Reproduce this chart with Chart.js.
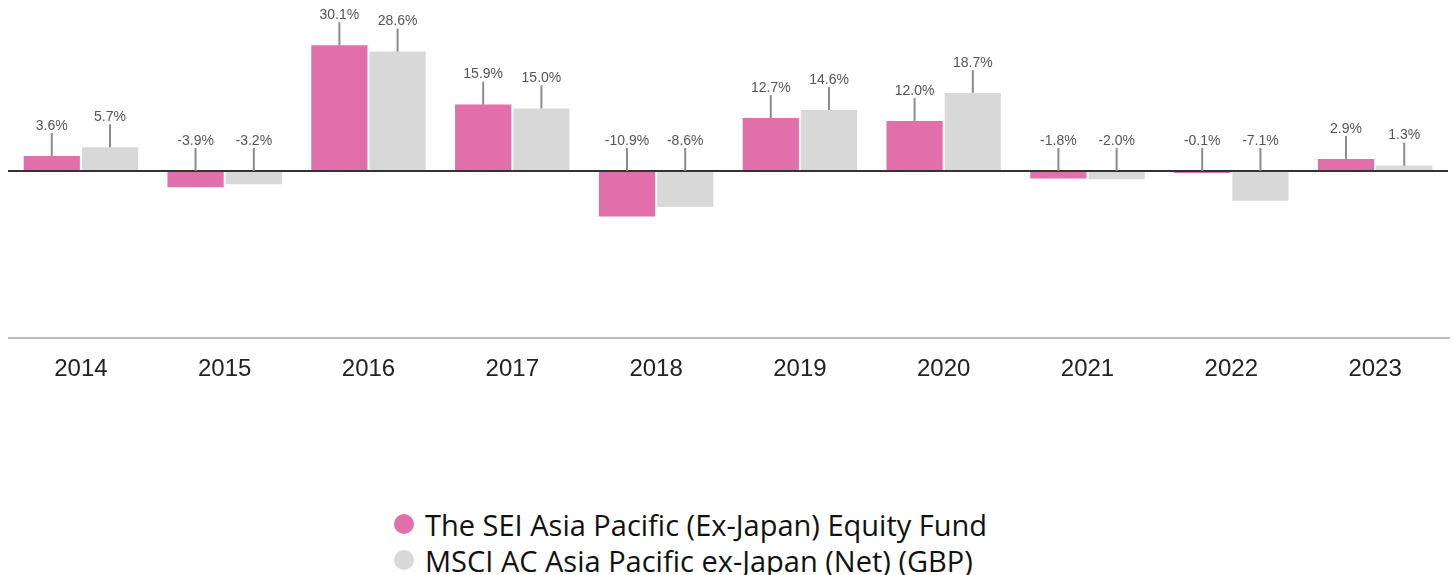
<!DOCTYPE html>
<html>
<head>
<meta charset="utf-8">
<script src="https://cdn.jsdelivr.net/npm/chart.js@4.4.1/dist/chart.umd.min.js"></script>
<style>
  html, body { margin: 0; padding: 0; background: #fff; }
  #wrap { position: relative; width: 1453px; height: 575px; overflow: hidden; }
  #chartBox { position: absolute; left: 0; top: 0; width: 1453px; height: 400px; }
  #legend { position: absolute; left: 394px; top: 506px; font-family: "Open Sans", sans-serif; color: #111; }
  .li { display: flex; align-items: center; height: 36px; white-space: nowrap; }
  .dot { width: 20px; height: 20px; border-radius: 50%; margin-right: 11px; flex: none; }
</style>
</head>
<body>
<div id="wrap">
  <div id="chartBox"><canvas id="c"></canvas></div>
  <div id="legend"></div>
</div>
<script>
const years = ["2014","2015","2016","2017","2018","2019","2020","2021","2022","2023"];
const fundName = "The SEI Asia Pacific (Ex-Japan) Equity Fund";
const indexName = "MSCI AC Asia Pacific ex-Japan (Net) (GBP)";
const fundValues = [3.6, -3.9, 30.1, 15.9, -10.9, 12.7, 12.0, -1.8, -0.1, 2.9];
const indexValues = [5.7, -3.2, 28.6, 15.0, -8.6, 14.6, 18.7, -2.0, -7.1, 1.3];
const fundColor = "#E06FAA";
const indexColor = "#D8D8D8";

const labelPlugin = {
  id: "labelPlugin",
  afterDatasetsDraw(chart) {
    const ctx = chart.ctx;
    const ca = chart.chartArea;
    const y0 = chart.scales.y.getPixelForValue(0);
    ctx.save();
    // zero line
    ctx.strokeStyle = "#333333";
    ctx.lineWidth = 2;
    ctx.beginPath();
    ctx.moveTo(ca.left - 1, y0);
    ctx.lineTo(ca.right + 1, y0);
    ctx.stroke();
    // bottom axis line
    ctx.strokeStyle = "#BDBDBD";
    ctx.beginPath();
    ctx.moveTo(ca.left - 1, ca.bottom);
    ctx.lineTo(ca.right + 3, ca.bottom);
    ctx.stroke();
    // labels with leader lines
    ctx.font = "14px 'Liberation Sans', Arial, sans-serif";
    ctx.textAlign = "center";
    ctx.textBaseline = "middle";
    chart.data.datasets.forEach((ds, di) => {
      const meta = chart.getDatasetMeta(di);
      meta.data.forEach((bar, i) => {
        const top = Math.min(bar.y, bar.base);
        ctx.strokeStyle = "#8C8C8C";
        ctx.lineWidth = 2;
        ctx.beginPath();
        ctx.moveTo(bar.x, top - 23);
        ctx.lineTo(bar.x, top);
        ctx.stroke();
        ctx.fillStyle = "#555555";
        ctx.fillText(ds.data[i].toFixed(1) + "%", bar.x, top - 30);
      });
    });
    ctx.restore();
  }
};

const chart = new Chart(document.getElementById("c"), {
  type: "bar",
  data: {
    labels: years,
    datasets: [
      { label: fundName, data: fundValues, backgroundColor: fundColor, categoryPercentage: 0.81, barPercentage: 0.965, minBarLength: 2 },
      { label: indexName, data: indexValues, backgroundColor: indexColor, categoryPercentage: 0.81, barPercentage: 0.965, minBarLength: 2 }
    ]
  },
  options: {
    responsive: true,
    maintainAspectRatio: false,
    animation: false,
    layout: { padding: { top: 4, left: 9, right: 6, bottom: 0 } },
    plugins: { legend: { display: false }, tooltip: { enabled: false } },
    scales: {
      x: {
        grid: { display: false, drawTicks: false },
        border: { display: false },
        ticks: { color: "#222", font: { family: "'Liberation Sans', Arial, sans-serif", size: 24 }, padding: 17, maxRotation: 0 },
        afterFit(scale) { scale.height = 62; }
      },
      y: {
        display: false,
        min: -40,
        max: 40
      }
    }
  },
  plugins: [labelPlugin]
});

// HTML legend built from the chart datasets
const legendEl = document.getElementById("legend");
const targetWidth = 562;
const mctx = document.createElement("canvas").getContext("2d");
mctx.font = "100px 'Open Sans'";
const w100 = mctx.measureText(fundName).width;
let fs = Math.max(20, Math.min(30, 100 * targetWidth / w100));
legendEl.style.fontSize = fs.toFixed(1) + "px";
chart.data.datasets.forEach(ds => {
  const row = document.createElement("div");
  row.className = "li";
  const d = document.createElement("span");
  d.className = "dot";
  d.style.background = ds.backgroundColor;
  const t = document.createElement("span");
  t.textContent = ds.label;
  row.appendChild(d);
  row.appendChild(t);
  legendEl.appendChild(row);
});
</script>
</body>
</html>
